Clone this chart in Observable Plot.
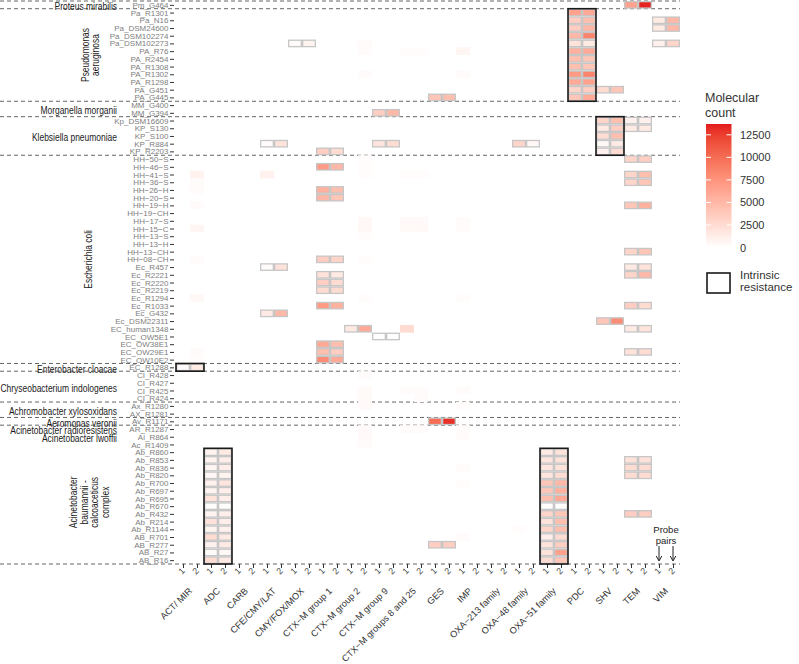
<!DOCTYPE html>
<html><head><meta charset="utf-8">
<script src="https://cdn.jsdelivr.net/npm/d3@7"></script>
<script src="https://cdn.jsdelivr.net/npm/@observablehq/plot@0.6"></script>
<style>body{margin:0;background:#fff;}</style>
</head><body><div id="chart"></div>
<script>
const families = ["ACT/ MIR","ADC","CARB","CFE/CMY/LAT","CMY/FOX/MOX","CTX\u2212M group 1","CTX\u2212M group 2","CTX\u2212M group 9","CTX\u2212M groups 8 and 25","GES","IMP","OXA\u2212213 family","OXA\u221248 family","OXA\u221251 family","PDC","SHV","TEM","VIM"];
const probes = ["1","2"];
const samples = ["Pm_G464","Pa_R1301","Pa_N16","Pa_DSM24600","Pa_DSM102274","Pa_DSM102273","PA_R76","PA_R2454","PA_R1308","PA_R1302","PA_R1298","PA_G451","PA_G445","MM_G400","MM_G394","Kp_DSM16609","KP_S130","KP_S100","KP_R884","KP_R2203","HH\u221250\u2212S","HH\u221246\u2212S","HH\u221241\u2212S","HH\u221236\u2212S","HH\u221226\u2212H","HH\u221220\u2212S","HH\u221219\u2212H","HH\u221219\u2212CH","HH\u221217\u2212S","HH\u221215\u2212C","HH\u221213\u2212S","HH\u221213\u2212H","HH\u221213\u2212CH","HH\u221208\u2212CH","Ec_R457","Ec_R2221","Ec_R2220","Ec_R2219","Ec_R1294","Ec_R1033","Ec_G432","Ec_DSM22311","EC_human1348","EC_OW5E1","EC_OW38E1","EC_OW29E1","EC_OW10E2","EC_R1288","CI_R428","CI_R427","CI_R425","CI_R424","Ax_R1280","AX_R1281","Av_R1171","AR_R1287","Al_R864","Ac_R1409","Ab_R860","Ab_R853","Ab_R836","Ab_R820","Ab_R700","Ab_R697","Ab_R695","Ab_R670","Ab_R432","Ab_R214","Ab_R1144","AB_R701","AB_R277","AB_R27","AB_R16"];
const speciesNames = ["Proteus mirabilis","Pseudomonas aeruginosa","Morganella morganii","Klebsiella pneumoniae","Escherichia coli","Enterobacter cloacae","Chryseobacterium indologenes","Achromobacter xylosoxidans","Aeromonas veronii","Acinetobacter radioresistens","Acinetobacter lwoffii","Acinetobacter baumannii - calcoaceticus complex"];
const speciesSizes = [1,12,2,5,27,1,4,2,1,1,1,16];
const genusBreaksAfter = ["Pm_G464","PA_G445","MM_G394","KP_R2203","EC_OW10E2","EC_R1288","CI_R424","AX_R1281","Av_R1171"];

// [sample, family, probe 1 count, probe 2 count] — detected probe pairs
const detected = [
["Pm_G464","TEM",6500,13500],
["Pa_R1301","PDC",6500,6000],
["Pa_N16","PDC",3500,4500],["Pa_N16","VIM",1500,5000],
["Pa_DSM24600","PDC",3500,5000],["Pa_DSM24600","VIM",1500,5000],
["Pa_DSM102274","PDC",5000,8500],
["Pa_DSM102273","PDC",2000,1500],["Pa_DSM102273","CMY/FOX/MOX",300,800],["Pa_DSM102273","VIM",1000,3000],
["PA_R76","PDC",5500,6000],
["PA_R2454","PDC",4500,4000],
["PA_R1308","PDC",4500,4000],
["PA_R1302","PDC",7000,8500],
["PA_R1298","PDC",6000,6500],
["PA_G451","PDC",3000,3500],["PA_G451","SHV",2500,4000],
["PA_G445","PDC",4000,6000],["PA_G445","GES",4000,4500],
["MM_G394","CTX\u2212M group 9",3500,5000],
["Kp_DSM16609","SHV",3000,4500],["Kp_DSM16609","TEM",1000,1000],
["KP_S130","SHV",1500,3500],["KP_S130","TEM",1500,1500],
["KP_S100","SHV",2500,4500],
["KP_R884","SHV",500,1500],["KP_R884","CFE/CMY/LAT",300,2000],["KP_R884","CTX\u2212M group 9",1800,2500],["KP_R884","OXA\u221248 family",3000,500],
["KP_R2203","SHV",1000,2500],["KP_R2203","CTX\u2212M group 1",3500,2500],
["HH\u221250\u2212S","TEM",3000,3500],
["HH\u221246\u2212S","CTX\u2212M group 1",7000,5000],
["HH\u221241\u2212S","TEM",3000,4500],
["HH\u221236\u2212S","TEM",3000,4000],
["HH\u221226\u2212H","CTX\u2212M group 1",5500,4500],
["HH\u221220\u2212S","CTX\u2212M group 1",5000,4000],
["HH\u221219\u2212H","TEM",4000,5500],
["HH\u221213\u2212CH","TEM",3000,4000],
["HH\u221208\u2212CH","CTX\u2212M group 1",3500,3000],
["Ec_R457","CFE/CMY/LAT",300,2000],["Ec_R457","TEM",1500,2000],
["Ec_R2221","CTX\u2212M group 1",2000,1500],["Ec_R2221","TEM",3000,5000],
["Ec_R2220","CTX\u2212M group 1",3500,2500],
["Ec_R2219","CTX\u2212M group 1",2500,2500],
["Ec_R1033","CTX\u2212M group 1",7000,5500],["Ec_R1033","TEM",3500,2500],
["Ec_G432","CFE/CMY/LAT",1500,5000],
["Ec_DSM22311","SHV",4000,8000],
["EC_human1348","CTX\u2212M group 2",1500,6000],["EC_human1348","TEM",1500,2000],
["EC_OW5E1","CTX\u2212M group 9",100,100],
["EC_OW38E1","CTX\u2212M group 1",6000,4500],
["EC_OW29E1","CTX\u2212M group 1",4500,3500],["EC_OW29E1","TEM",2000,2500],
["EC_OW10E2","CTX\u2212M group 1",8000,6000],
["EC_R1288","ACT/ MIR",300,1500],
["Av_R1171","GES",10000,13000],
["Ab_R860","ADC",800,1500],["Ab_R860","OXA\u221251 family",1500,2000],
["Ab_R853","ADC",800,1200],["Ab_R853","OXA\u221251 family",1800,2000],["Ab_R853","TEM",2000,2000],
["Ab_R836","ADC",600,1200],["Ab_R836","OXA\u221251 family",1800,2000],["Ab_R836","TEM",2500,2500],
["Ab_R820","ADC",500,800],["Ab_R820","OXA\u221251 family",1800,2500],["Ab_R820","TEM",2500,2500],
["Ab_R700","ADC",1000,1800],["Ab_R700","OXA\u221251 family",4000,5000],
["Ab_R697","ADC",800,1200],["Ab_R697","OXA\u221251 family",4000,5500],
["Ab_R695","ADC",2000,1200],["Ab_R695","OXA\u221251 family",4500,6000],
["Ab_R670","ADC",100,100],["Ab_R670","OXA\u221251 family",100,100],
["Ab_R432","ADC",800,1200],["Ab_R432","OXA\u221251 family",3000,4000],["Ab_R432","TEM",3500,3500],
["Ab_R214","ADC",2000,1200],["Ab_R214","OXA\u221251 family",2000,4500],
["Ab_R1144","ADC",800,1000],["Ab_R1144","OXA\u221251 family",3000,4500],
["AB_R701","ADC",2500,1500],["AB_R701","OXA\u221251 family",1200,2500],
["AB_R277","ADC",1000,1500],["AB_R277","OXA\u221251 family",2000,3500],["AB_R277","GES",3500,3500],
["AB_R27","ADC",300,500],["AB_R27","OXA\u221251 family",2000,6500],
["AB_R16","ADC",2500,1500],["AB_R16","OXA\u221251 family",2500,4000]
];

// [sample, family, probe, count] — weak background signals (no outline)
const faint = [
["PA_R76","IMP","1",700],["PA_R76","CTX\u2212M group 2","2",250],["PA_R76","CTX\u2212M groups 8 and 25","1",200],["PA_R76","CTX\u2212M groups 8 and 25","2",200],
["Pa_DSM102273","CTX\u2212M group 2","2",250],["PA_R1302","CTX\u2212M group 2","2",250],["PA_R1302","IMP","1",250],
["HH\u221241\u2212S","ACT/ MIR","2",900],["HH\u221241\u2212S","CFE/CMY/LAT","1",1000],
["HH\u221236\u2212S","ACT/ MIR","2",250],["HH\u221226\u2212H","ACT/ MIR","2",250],["HH\u221219\u2212H","ACT/ MIR","2",250],
["HH\u221215\u2212C","ACT/ MIR","2",600],["HH\u221208\u2212CH","ACT/ MIR","2",250],["Ec_R1294","ACT/ MIR","2",500],
["HH\u221250\u2212S","CTX\u2212M group 2","2",200],["HH\u221246\u2212S","CTX\u2212M group 2","2",200],["HH\u221241\u2212S","CTX\u2212M group 2","2",200],
["HH\u221217\u2212S","CTX\u2212M group 2","2",500],["HH\u221215\u2212C","CTX\u2212M group 2","2",550],["HH\u221213\u2212S","CTX\u2212M group 2","2",200],
["HH\u221208\u2212CH","CTX\u2212M group 2","2",200],["Ec_R1294","CTX\u2212M group 2","2",200],
["HH\u221217\u2212S","CTX\u2212M groups 8 and 25","1",350],["HH\u221217\u2212S","CTX\u2212M groups 8 and 25","2",350],
["HH\u221215\u2212C","CTX\u2212M groups 8 and 25","1",400],["HH\u221215\u2212C","CTX\u2212M groups 8 and 25","2",500],
["HH\u221241\u2212S","CTX\u2212M groups 8 and 25","1",200],["HH\u221241\u2212S","CTX\u2212M groups 8 and 25","2",200],
["EC_human1348","CTX\u2212M groups 8 and 25","1",2500],
["HH\u221217\u2212S","IMP","1",250],["HH\u221215\u2212C","IMP","1",300],["Ec_R1294","IMP","1",200],
["EC_OW29E1","ACT/ MIR","2",250],["EC_OW10E2","ACT/ MIR","2",200],
["CI_R428","CTX\u2212M group 2","2",250],["CI_R425","CTX\u2212M group 2","2",400],["CI_R424","CTX\u2212M group 2","2",400],["Ax_R1280","CTX\u2212M group 2","2",350],
["CI_R425","CTX\u2212M groups 8 and 25","1",300],["CI_R425","CTX\u2212M groups 8 and 25","2",300],["CI_R424","CTX\u2212M groups 8 and 25","2",300],
["CI_R425","IMP","1",250],["Ax_R1280","IMP","1",200],
["AR_R1287","CTX\u2212M group 2","2",350],["Al_R864","CTX\u2212M group 2","2",350],["Ac_R1409","CTX\u2212M group 2","2",250],
["AR_R1287","IMP","1",300],["Al_R864","IMP","1",250],["AR_R1287","CTX\u2212M groups 8 and 25","1",250],["AR_R1287","CTX\u2212M groups 8 and 25","2",250],
["Ab_R836","IMP","1",250],["Ab_R700","IMP","1",200],["AB_R701","IMP","1",250],["Ab_R1144","OXA\u221248 family","1",200]
];

// [family, first sample, last sample] — intrinsic resistance
const intrinsic = [["PDC","Pa_R1301","PA_G445"],["SHV","Kp_DSM16609","KP_R2203"],["ACT/ MIR","EC_R1288","EC_R1288"],["ADC","Ab_R860","AB_R16"],["OXA\u221251 family","Ab_R860","AB_R16"]];
const legendTicks = [0,2500,5000,7500,10000,12500];
const colorMax = 13700;

const cols = families.flatMap(f => probes.map(p => f + "|" + p));
const detCells = detected.flatMap(([s,f,v1,v2]) => [{sample:s,col:f+"|1",value:v1},{sample:s,col:f+"|2",value:v2}]);
const faintCells = faint.map(([s,f,p,v]) => ({sample:s,col:f+"|"+p,value:v}));

const FONT = "'Liberation Sans', Arial, sans-serif";
const plot = Plot.plot({
  width: 799, height: 664,
  marginLeft: 174, marginRight: 118, marginTop: 1, marginBottom: 100,
  style: {fontFamily: FONT, background: "#fff", color: "#333"},
  x: {type: "band", domain: cols, padding: 0, axis: null},
  y: {type: "band", domain: samples, padding: 0, axis: null},
  color: {type: "linear", domain: [0, colorMax], range: ["#ffffff", "#e41a1c"], interpolate: d3.interpolateLab},
  marks: [
    Plot.cell(faintCells, {x: "col", y: "sample", fill: "value"}),
    Plot.cell(detCells, {x: "col", y: "sample", fill: "value", stroke: "#c6c6c6", strokeWidth: 1.3, inset: 0.65}),
    Plot.axisY({tickSize: 4, tickPadding: 2, fontSize: 8, fill: "#808080", stroke: "#333", label: null}),
    Plot.axisX({tickFormat: d => d.split("|")[1], tickRotate: -45, tickSize: 4, tickPadding: 1, fontSize: 9, fill: "#555", stroke: "#333", label: null}),
    Plot.text(families, {x: f => f + "|1", frameAnchor: "bottom", dx: 7, dy: 25, rotate: -45, textAnchor: "end", lineAnchor: "middle", fontSize: 9.2, fill: "#333"})
  ]
});
document.getElementById("chart").appendChild(plot);

const svg = d3.select(plot);
const xs = plot.scale("x"), ys = plot.scale("y"), cs = plot.scale("color");
const bx = xs.bandwidth, by = ys.bandwidth;
const X = c => xs.apply(c), Y = s => ys.apply(s);
const xRight = X(cols[cols.length - 1]) + bx;

// dashed separators between genera
const sepYs = [Y(samples[0]), ...genusBreaksAfter.map(s => Y(s) + by), Y(samples[samples.length - 1]) + by];
const sepG = svg.insert("g", ":first-child");
sepG.selectAll("line").data(sepYs).join("line")
  .attr("x1", 0).attr("x2", xRight).attr("y1", d => d).attr("y2", d => d)
  .attr("stroke", "#555").attr("stroke-width", 0.9).attr("stroke-dasharray", "4,3");

// intrinsic resistance boxes
svg.append("g").selectAll("rect").data(intrinsic).join("rect")
  .attr("x", d => X(d[0] + "|1")).attr("width", 2 * bx)
  .attr("y", d => Y(d[1])).attr("height", d => Y(d[2]) + by - Y(d[1]))
  .attr("fill", "none").attr("stroke", "#1a1a1a").attr("stroke-width", 1.6);

// species labels (condensed sans)
const SQ = 0.77;
const vertical = {
  "Pseudomonas aeruginosa": {lines: ["Pseudomonas", "aeruginosa"], x: 90},
  "Escherichia coli": {lines: ["Escherichia coli"], x: 88},
  "Acinetobacter baumannii - calcoaceticus complex": {lines: ["Acinetobacter", "baumannii -", "calcoaceticus", "complex"], x: 89}
};
const labG = svg.append("g").attr("font-family", FONT).attr("font-size", 11).attr("fill", "#1a1a1a");
let start = 0;
speciesNames.forEach((name, i) => {
  const first = samples[start], last = samples[start + speciesSizes[i] - 1];
  const yc = (Y(first) + Y(last) + by) / 2;
  start += speciesSizes[i];
  const v = vertical[name];
  if (v) {
    const t = labG.append("text").attr("transform", `translate(${v.x},${yc}) rotate(-90) scale(${SQ},1)`).attr("text-anchor", "middle");
    v.lines.forEach((ln, k) => t.append("tspan").attr("x", 0).attr("y", (k - (v.lines.length - 1) / 2) * 10.5).attr("dominant-baseline", "central").text(ln));
  } else {
    labG.append("text").attr("transform", `translate(117,${yc + 1.5}) scale(${SQ},1)`).attr("text-anchor", "end").attr("dominant-baseline", "central").text(name);
  }
});

// probe pairs annotation
const vim1 = X("VIM|1") + bx / 2, vim2 = X("VIM|2") + bx / 2;
const yBottom = Y(samples[samples.length - 1]) + by;
const ann = svg.append("g").attr("font-family", FONT).attr("font-size", 9.5).attr("fill", "#222").attr("text-anchor", "middle");
ann.append("text").attr("x", (vim1 + vim2) / 2).attr("y", 533).text("Probe");
ann.append("text").attr("x", (vim1 + vim2) / 2).attr("y", 543.5).text("pairs");
[vim1, vim2].forEach(x => {
  ann.append("line").attr("x1", x).attr("x2", x).attr("y1", 546).attr("y2", yBottom - 4).attr("stroke", "#222").attr("stroke-width", 1);
  ann.append("path").attr("d", `M${x - 2.8},${yBottom - 8} L${x},${yBottom - 3} L${x + 2.8},${yBottom - 8}`).attr("fill", "none").attr("stroke", "#222").attr("stroke-width", 1);
});

// legend
const lg = svg.append("g").attr("font-family", FONT).attr("fill", "#333").attr("text-anchor", "start");
lg.append("text").attr("x", 705).attr("y", 102).attr("font-size", 12.5).text("Molecular");
lg.append("text").attr("x", 705).attr("y", 116.5).attr("font-size", 12.5).text("count");
const barTop = 124, barBottom = 247.5, barX = 706, barW = 25.5;
const grad = svg.append("defs").append("linearGradient").attr("id", "cbar").attr("x1", 0).attr("y1", 1).attr("x2", 0).attr("y2", 0);
d3.range(0, 1.0001, 0.05).forEach(t => grad.append("stop").attr("offset", t).attr("stop-color", cs.apply(t * colorMax)));
lg.append("rect").attr("x", barX).attr("y", barTop).attr("width", barW).attr("height", barBottom - barTop).attr("fill", "url(#cbar)");
const vy = v => barBottom - v / colorMax * (barBottom - barTop);
legendTicks.forEach(v => {
  const y = vy(v);
  lg.append("line").attr("x1", barX).attr("x2", barX + 5).attr("y1", y).attr("y2", y).attr("stroke", "#fff").attr("stroke-width", 1);
  lg.append("line").attr("x1", barX + barW - 5).attr("x2", barX + barW).attr("y1", y).attr("y2", y).attr("stroke", "#fff").attr("stroke-width", 1);
  lg.append("text").attr("x", 740).attr("y", y).attr("dominant-baseline", "central").attr("font-size", 11).text(v);
});
lg.append("rect").attr("x", 707).attr("y", 273).attr("width", 23).attr("height", 20).attr("fill", "none").attr("stroke", "#1a1a1a").attr("stroke-width", 1.6);
lg.append("text").attr("x", 740).attr("y", 279).attr("font-size", 11.5).text("Intrinsic");
lg.append("text").attr("x", 740).attr("y", 291).attr("font-size", 11.5).text("resistance");
</script>
</body></html>
